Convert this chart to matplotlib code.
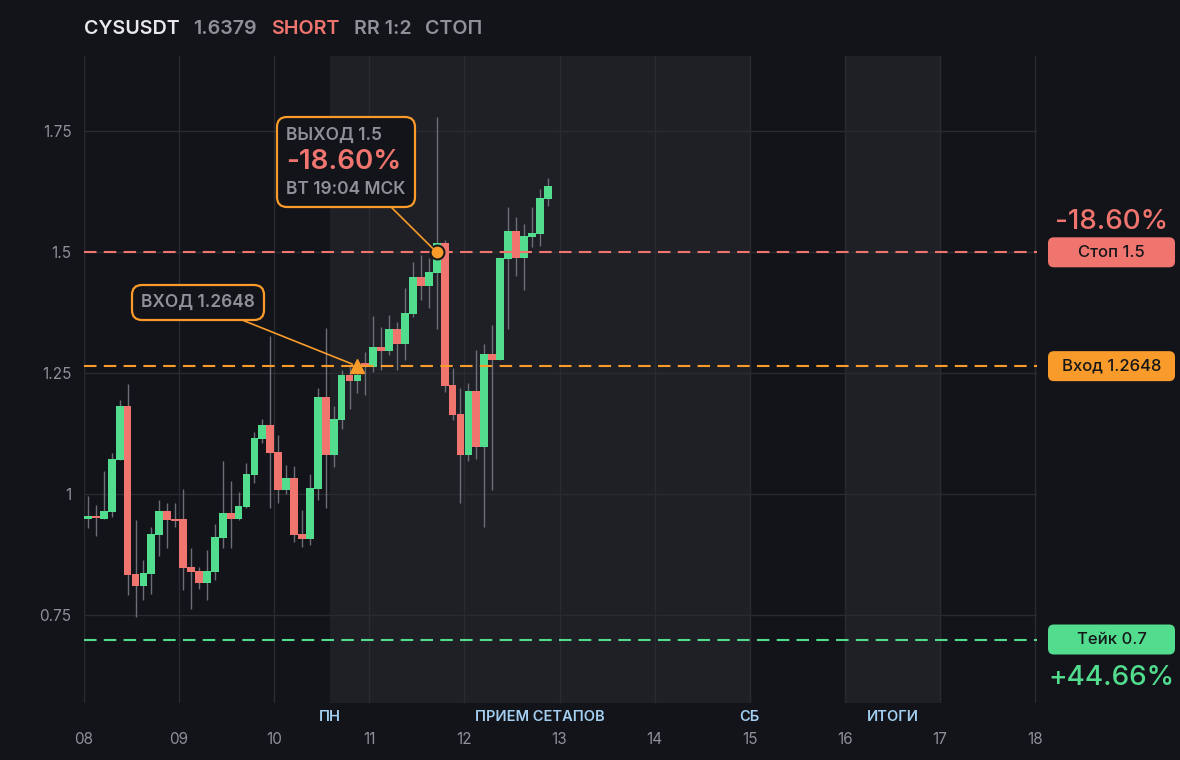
import numpy as np
import pandas as pd
import matplotlib
matplotlib.use('Agg')
import matplotlib.pyplot as plt
import matplotlib.dates as mdates
import matplotlib.transforms as mtransforms
from matplotlib.patches import FancyBboxPatch
from matplotlib.offsetbox import TextArea, VPacker, AnnotationBbox

plt.rcParams['font.family'] = ['Inter', 'DejaVu Sans']

# 2h candles, CYSUSDT
start = '2025-11-08 00:00'
opens = [0.948, 0.956, 0.950, 0.963, 1.070, 1.182, 0.836, 0.811, 0.836, 0.915,
         0.965, 0.948, 0.948, 0.849, 0.842, 0.816, 0.840, 0.909, 0.961, 0.948,
         0.973, 1.039, 1.114, 1.143, 1.087, 1.008, 1.033, 0.917, 0.907, 1.010,
         1.201, 1.081, 1.153, 1.247, 1.234, 1.271, 1.263, 1.305, 1.296, 1.342,
         1.311, 1.373, 1.450, 1.431, 1.458, 1.520, 1.226, 1.166, 1.081, 1.213,
         1.097, 1.290, 1.278, 1.487, 1.543, 1.489, 1.531, 1.537, 1.611]
closes = [0.956, 0.952, 0.965, 1.073, 1.182, 0.834, 0.811, 0.838, 0.917, 0.965,
          0.946, 0.944, 0.847, 0.840, 0.816, 0.842, 0.911, 0.961, 0.948, 0.975,
          1.041, 1.116, 1.143, 1.085, 1.008, 1.033, 0.915, 0.907, 1.012, 1.201,
          1.081, 1.155, 1.247, 1.234, 1.247, 1.263, 1.305, 1.296, 1.342, 1.311,
          1.375, 1.450, 1.431, 1.460, 1.520, 1.224, 1.164, 1.081, 1.213, 1.097,
          1.290, 1.278, 1.489, 1.543, 1.489, 1.533, 1.539, 1.613, 1.638]
highs = [0.996, 0.977, 1.048, 1.085, 1.195, 1.228, 0.946, 0.865, 0.932, 0.988,
         0.981, 0.983, 1.010, 0.890, 0.850, 0.884, 0.938, 1.068, 1.027, 1.004,
         1.064, 1.128, 1.155, 1.327, 1.122, 1.060, 1.058, 0.967, 1.041, 1.220,
         1.344, 1.182, 1.257, 1.267, 1.271, 1.294, 1.369, 1.346, 1.371, 1.356,
         1.427, 1.481, 1.495, 1.489, 1.779, 1.526, 1.261, 1.220, 1.230, 1.298,
         1.311, 1.350, 1.490, 1.593, 1.572, 1.558, 1.593, 1.630, 1.653]
lows = [0.930, 0.913, 0.950, 0.954, 1.070, 0.791, 0.747, 0.782, 0.795, 0.872,
        0.890, 0.932, 0.803, 0.764, 0.805, 0.782, 0.822, 0.890, 0.890, 0.946,
        0.971, 1.023, 1.106, 0.971, 0.981, 1.000, 0.901, 0.892, 0.896, 0.988,
        0.971, 1.056, 1.135, 1.176, 1.209, 1.205, 1.253, 1.257, 1.288, 1.257,
        1.278, 1.367, 1.402, 1.385, 1.342, 1.211, 1.153, 0.983, 1.068, 1.073,
        0.932, 1.008, 1.278, 1.342, 1.452, 1.423, 1.510, 1.512, 1.595]

entry_price = 1.2648
stop_price = 1.5
take_price = 0.7
entry_time = '2025-11-10 21:00'
exit_time = '2025-11-11 17:00'

sections = [('ПН', '2025-11-10 14:00'), ('ПРИЕМ СЕТАПОВ', '2025-11-12 19:00'),
            ('СБ', '2025-11-15 00:00'), ('ИТОГИ', '2025-11-16 12:00')]
shade_spans = [('2025-11-10 14:00', '2025-11-15 00:00'),
               ('2025-11-16 00:00', '2025-11-17 00:00')]

BG = '#131419'
SHADE = '#1f2025'
GRID = '#2a2b31'
GREEN = '#52dc8e'
RED = '#f1756f'
ORANGE = '#f89b2b'
GRAY = '#8f9199'
WICK = '#6b6e76'
BLUE = '#a3cff3'

fig = plt.figure(figsize=(11.8, 7.6), dpi=100, facecolor=BG)
ax = fig.add_axes([84 / 1180, 57 / 760, 953 / 1180, 647 / 760])
ax.set_facecolor(BG)

times = pd.date_range(start, periods=len(opens), freq='2h') + pd.Timedelta(hours=1)
t = mdates.date2num(times)
o = np.array(opens)
c = np.array(closes)
up = c >= o
colors = np.where(up, GREEN, RED)

for a, b in shade_spans:
    ax.axvspan(mdates.date2num(pd.Timestamp(a)), mdates.date2num(pd.Timestamp(b)),
               color=SHADE, lw=0, zorder=0)

ax.vlines(t, lows, highs, color=WICK, lw=1, zorder=2)
ax.bar(t, np.maximum(np.abs(c - o), 0.002), bottom=np.minimum(o, c),
       width=1 / 12 * 0.98, color=colors, lw=0, zorder=3)

dash = (0, (6, 3.5))
ax.axhline(stop_price, color=RED, lw=1.5, ls=dash, zorder=4)
ax.axhline(entry_price, color=ORANGE, lw=1.5, ls=dash, zorder=4)
ax.axhline(take_price, color=GREEN, lw=1.5, ls=dash, zorder=4)

te = mdates.date2num(pd.Timestamp(entry_time))
tx = mdates.date2num(pd.Timestamp(exit_time))
ax.plot(te, entry_price, marker='^', ms=10, color=ORANGE, zorder=6)
ax.plot(tx, stop_price, marker='o', ms=10, mfc=ORANGE, mec='#1a1a1a', mew=1.5, zorder=6)

x0 = mdates.date2num(pd.Timestamp('2025-11-08'))
ax.set_xlim(x0, x0 + 10.02)
ax.set_ylim(0.5688, 1.9056)

ax.set_yticks([0.75, 1, 1.25, 1.5, 1.75])
ax.set_yticklabels(['0.75', '1', '1.25', '1.5', '1.75'])
ax.xaxis.set_major_locator(mdates.DayLocator())
ax.xaxis.set_major_formatter(mdates.DateFormatter('%d'))
ax.tick_params(axis='y', length=0, pad=9, labelcolor=GRAY, labelsize=11)
ax.tick_params(axis='x', length=0, pad=21, labelcolor=GRAY, labelsize=11)
ax.grid(True, color=GRID, lw=1)
ax.set_axisbelow(True)
for s in ax.spines.values():
    s.set_visible(False)

# section names under the chart
trans = mtransforms.blended_transform_factory(ax.transData, ax.transAxes)
for name, when in sections:
    ax.text(mdates.date2num(pd.Timestamp(when)), -0.022, name, transform=trans,
            ha='center', va='center', color=BLUE, fontsize=10.5, fontweight='semibold')

# callouts
def callout(lines, xy, offset):
    boxes = [TextArea(s, textprops=dict(color=col, fontsize=fs, fontweight='semibold'))
             for s, col, fs in lines]
    pack = VPacker(children=boxes, align='left', pad=0, sep=4)
    ab = AnnotationBbox(pack, xy, xybox=offset, boxcoords='offset points',
                        frameon=True, pad=0.55, fontsize=12,
                        bboxprops=dict(boxstyle='round,pad=0.55,rounding_size=0.6',
                                       fc=BG, ec=ORANGE, lw=1.6),
                        arrowprops=dict(arrowstyle='-', color=ORANGE, lw=1.2,
                                        shrinkA=0, shrinkB=4),
                        zorder=7)
    ax.add_artist(ab)

callout([('ВЫХОД 1.5', GRAY, 12.5), ('-18.60%', RED, 20), ('ВТ 19:04 МСК', GRAY, 12.5)],
        (tx, stop_price), (-65.5, 65))
callout([('ВХОД 1.2648', GRAY, 12.5)], (te, entry_price), (-115, 46))

# right-hand price tags
def level_y(price):
    return fig.transFigure.inverted().transform(ax.transData.transform((0, price)))[1]

bw, bh = 127 / 1180, 30 / 760
bx = 1048 / 1180
for label, price, col in [('Стоп 1.5', stop_price, RED),
                          ('Вход 1.2648', entry_price, ORANGE),
                          ('Тейк 0.7', take_price, GREEN)]:
    yc = level_y(price)
    fig.patches.append(FancyBboxPatch((bx, yc - bh / 2), bw, bh,
                                      boxstyle='round,pad=0,rounding_size=0.005',
                                      mutation_aspect=1180 / 760, fc=col, ec='none',
                                      transform=fig.transFigure, figure=fig))
    fig.text(bx + bw / 2, yc, label, ha='center', va='center', color='#15161a',
             fontsize=12, fontweight='medium')

fig.text(bx + bw / 2, level_y(stop_price) + 30 / 760, '-18.60%', ha='center',
         va='center', color=RED, fontsize=20, fontweight='medium')
fig.text(bx + bw / 2, level_y(take_price) - 38 / 760, '+44.66%', ha='center',
         va='center', color=GREEN, fontsize=20, fontweight='medium')

# header
parts = [('CYSUSDT', '#e8e8ea'), ('1.6379', GRAY), ('SHORT', RED),
         ('RR 1:2', GRAY), ('СТОП', GRAY)]
renderer = fig.canvas.get_renderer()
xpos = 84 / 1180
for s, col in parts:
    txt = fig.text(xpos, 1 - 29 / 760, s, ha='left', va='center', color=col,
                   fontsize=14.2, fontweight='semibold')
    bb = txt.get_window_extent(renderer)
    xpos = bb.x1 / 1180 + 14 / 1180

fig.savefig('out.png', dpi=100, facecolor=BG)
